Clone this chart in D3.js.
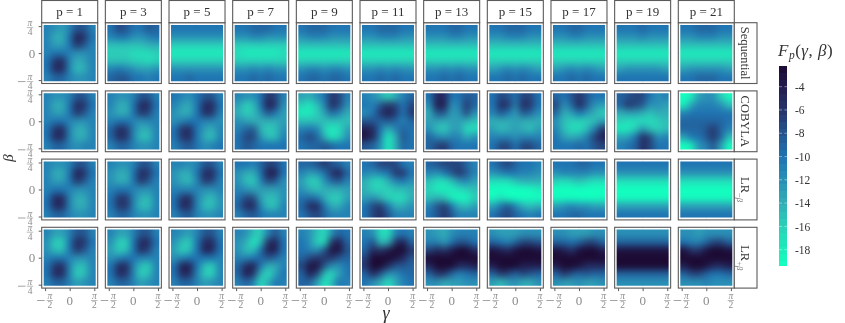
<!DOCTYPE html>
<html><head><meta charset="utf-8">
<script src="https://cdn.jsdelivr.net/npm/d3@7"></script>
<style>html,body{margin:0;background:#fff}svg{display:block;will-change:transform}</style></head><body>
<div id="c"></div>
<script>
const depths=[1,3,5,7,9,11,13,15,17,19,21];
const methods=["Sequential","COBYLA","LR-","LR+"];
const legendTicks=[-4,-6,-8,-10,-12,-14,-16,-18];
const colorDomain=[-19.4,-18,-16,-14,-12,-10,-8,-6,-4,-2.2];
const colorRange=["#12ffbf","#1cecbb","#2bd0b8","#31adb6","#2a90b6","#1f74b2","#24558f","#26356b","#221d50","#1c0a33"];
// Each panel: 7 rows (top = +pi/4) of 7 columns (left = -pi/2)
const sequential=[
[-11,-12,-13,-11,-8,-8,-11, -11,-14,-14,-10,-4,-6,-10, -11,-13,-13,-10,-6,-8,-11, -11,-10,-10,-11,-12,-12,-11, -10,-6,-5,-11,-14,-13,-11, -10,-5,-5,-11,-15,-14,-11, -11,-9,-9,-11,-12,-12,-11],
[-10,-7,-8,-10,-10,-8,-9, -11,-10,-10,-12,-12,-11,-10, -15,-15,-15,-15,-15,-14,-14, -16,-16,-16,-17,-17,-17,-16, -15,-15,-15,-16,-16,-17,-16, -11,-10,-11,-12,-13,-13,-12, -9,-8,-8,-10,-10,-11,-10],
[-10,-10,-10,-10,-10,-10,-10, -12,-12,-12,-12,-12,-12,-12, -16,-16,-16,-16,-16,-16,-16, -18,-18,-18,-18,-18,-18,-18, -16,-16,-16,-16,-16,-16,-16, -12,-12,-12,-12,-12,-12,-12, -10,-10,-9,-10,-10,-10,-10],
[-10,-10,-9,-9,-9,-10,-10, -12,-12,-11,-11,-12,-12,-12, -16,-16,-16,-16,-16,-16,-16, -17,-18,-18,-18,-18,-18,-17, -16,-16,-16,-16,-16,-16,-16, -12,-12,-11,-12,-11,-12,-12, -10,-10,-9,-10,-9,-10,-10],
[-10,-9,-9,-9,-10,-10,-10, -12,-11,-11,-11,-12,-12,-12, -15,-15,-15,-15,-15,-15,-15, -18,-18,-18,-18,-18,-18,-18, -16,-16,-16,-16,-16,-16,-16, -12,-11,-11,-12,-11,-11,-12, -10,-9,-9,-10,-9,-9,-10],
[-10,-10,-9,-9,-9,-10,-10, -12,-12,-11,-11,-11,-12,-12, -15,-15,-15,-15,-15,-15,-15, -18,-18,-18,-18,-18,-18,-18, -16,-16,-16,-16,-16,-16,-16, -12,-12,-11,-12,-11,-12,-12, -10,-10,-9,-10,-9,-10,-10],
[-10,-10,-10,-9,-9,-10,-10, -12,-12,-12,-11,-11,-12,-12, -15,-15,-15,-15,-15,-15,-15, -18,-18,-18,-18,-18,-18,-18, -16,-16,-16,-16,-16,-16,-16, -12,-12,-11,-12,-11,-12,-12, -10,-10,-9,-10,-9,-10,-10],
[-10,-10,-9,-9,-9,-10,-10, -12,-12,-11,-11,-11,-12,-12, -15,-15,-15,-15,-15,-15,-15, -18,-18,-18,-18,-18,-18,-18, -16,-16,-16,-16,-16,-16,-16, -13,-12,-11,-12,-11,-12,-13, -10,-10,-9,-10,-9,-10,-10],
[-10,-10,-9,-9,-10,-10,-10, -12,-12,-11,-11,-12,-12,-12, -15,-15,-15,-15,-15,-15,-15, -18,-18,-18,-18,-18,-18,-18, -16,-16,-16,-16,-16,-16,-16, -13,-12,-11,-12,-11,-12,-13, -10,-10,-9,-10,-9,-10,-10],
[-10,-10,-10,-9,-10,-10,-10, -12,-12,-12,-11,-12,-12,-12, -15,-15,-15,-15,-15,-15,-15, -18,-18,-18,-18,-18,-18,-18, -16,-16,-16,-16,-16,-16,-16, -13,-12,-12,-12,-12,-12,-13, -10,-10,-10,-10,-10,-10,-10],
[-10,-10,-9,-9,-9,-10,-10, -12,-12,-11,-11,-11,-12,-12, -15,-15,-15,-15,-15,-15,-15, -18,-18,-18,-18,-18,-18,-18, -16,-16,-16,-16,-16,-16,-16, -13,-12,-12,-12,-12,-12,-13, -10,-10,-9,-9,-9,-10,-10]
];
const cobyla=[
[-11,-12,-12,-11,-8,-8,-11, -11,-14,-14,-10,-5,-6,-10, -11,-13,-13,-10,-6,-8,-11, -11,-10,-10,-11,-12,-12,-11, -10,-6,-5,-11,-14,-14,-11, -10,-5,-5,-11,-14,-14,-11, -11,-9,-9,-11,-12,-11,-11],
[-11,-12,-12,-11,-8,-8,-11, -11,-14,-14,-10,-5,-5,-10, -12,-14,-14,-10,-6,-7,-11, -11,-10,-10,-11,-12,-11,-11, -9,-5,-6,-11,-14,-14,-11, -9,-5,-6,-11,-15,-15,-11, -11,-9,-9,-11,-12,-12,-11],
[-10,-11,-12,-10,-8,-8,-11, -11,-13,-14,-10,-5,-5,-10, -12,-14,-14,-10,-5,-6,-11, -12,-11,-10,-10,-11,-11,-12, -10,-6,-5,-10,-13,-14,-11, -10,-6,-5,-10,-14,-15,-11, -11,-9,-8,-10,-12,-11,-10],
[-11,-12,-12,-10,-6,-7,-11, -13,-16,-15,-10,-4,-6,-12, -14,-16,-15,-12,-8,-10,-13, -12,-13,-14,-14,-14,-14,-13, -11,-9,-8,-14,-16,-15,-12, -10,-7,-7,-12,-15,-15,-11, -10,-8,-9,-10,-10,-10,-10],
[-13,-14,-12,-10,-6,-7,-11, -16,-18,-15,-11,-5,-7,-12, -18,-18,-16,-13,-9,-11,-14, -15,-15,-15,-15,-15,-15,-15, -11,-10,-11,-16,-18,-17,-13, -9,-7,-9,-14,-18,-16,-12, -10,-9,-9,-8,-9,-10,-10],
[-11,-12,-14,-16,-14,-11,-9, -10,-11,-8,-6,-7,-10,-7, -12,-10,-6,-4,-6,-10,-6, -8,-8,-9,-8,-9,-11,-9, -4,-5,-10,-14,-11,-9,-10, -3,-5,-11,-18,-14,-8,-10, -8,-9,-12,-18,-14,-9,-10],
[-10,-5,-5,-10,-10,-8,-9, -12,-4,-4,-12,-11,-6,-9, -14,-8,-8,-13,-12,-7,-12, -13,-13,-14,-13,-13,-14,-15, -12,-15,-16,-13,-13,-17,-17, -9,-11,-12,-11,-11,-14,-12, -9,-7,-6,-9,-10,-10,-10],
[-10,-7,-8,-10,-7,-7,-10, -10,-5,-6,-11,-5,-6,-10, -11,-8,-10,-13,-8,-9,-12, -14,-14,-14,-13,-14,-14,-14, -13,-15,-14,-13,-14,-15,-13, -11,-11,-11,-12,-11,-11,-11, -10,-7,-7,-10,-7,-7,-9],
[-9,-10,-8,-6,-8,-10,-10, -7,-12,-9,-5,-8,-12,-13, -9,-14,-13,-10,-12,-14,-16, -12,-15,-16,-16,-16,-15,-13, -11,-15,-17,-17,-15,-11,-6, -10,-13,-14,-13,-11,-7,-4, -10,-10,-10,-9,-10,-8,-7],
[-9,-8,-7,-7,-10,-12,-11, -9,-6,-7,-8,-12,-12,-13, -14,-13,-13,-14,-15,-14,-14, -16,-17,-17,-17,-17,-16,-15, -18,-18,-16,-12,-15,-16,-15, -13,-13,-10,-5,-7,-12,-11, -11,-10,-9,-5,-7,-10,-10],
[-22,-18,-13,-12,-12,-16,-19, -18,-13,-11,-11,-11,-12,-15, -11,-10,-10,-10,-10,-10,-10, -9,-9,-9,-9,-9,-9,-10, -9,-9,-9,-8,-6,-9,-11, -13,-10,-10,-8,-6,-9,-15, -23,-18,-12,-11,-8,-13,-21]
];
const lrMinus=[
[-11,-12,-12,-11,-8,-8,-11, -11,-14,-14,-10,-4,-6,-10, -11,-13,-13,-10,-6,-8,-11, -11,-10,-10,-11,-12,-12,-11, -10,-5,-5,-11,-14,-14,-11, -10,-5,-5,-11,-14,-14,-11, -11,-9,-9,-11,-12,-12,-11],
[-11,-12,-12,-11,-8,-8,-11, -12,-14,-14,-10,-5,-6,-10, -12,-14,-14,-10,-6,-8,-11, -11,-10,-10,-11,-12,-12,-11, -10,-6,-6,-11,-14,-15,-11, -10,-6,-6,-11,-15,-15,-11, -11,-9,-9,-11,-12,-12,-11],
[-11,-11,-12,-11,-8,-8,-11, -12,-14,-14,-10,-5,-5,-10, -12,-14,-15,-11,-6,-7,-11, -11,-11,-11,-11,-12,-12,-11, -10,-6,-5,-11,-14,-15,-12, -10,-5,-5,-11,-15,-15,-12, -11,-9,-8,-11,-12,-12,-11],
[-10,-10,-11,-9,-7,-7,-10, -12,-14,-14,-10,-4,-4,-10, -12,-15,-16,-11,-7,-8,-12, -11,-12,-13,-13,-13,-13,-12, -10,-7,-7,-13,-15,-15,-12, -9,-5,-5,-11,-15,-15,-11, -11,-9,-8,-10,-11,-11,-11],
[-9,-9,-8,-6,-8,-9,-11, -11,-13,-12,-10,-6,-4,-9, -13,-16,-16,-12,-9,-8,-11, -12,-14,-15,-14,-14,-14,-13, -10,-9,-10,-14,-16,-16,-13, -9,-5,-5,-10,-14,-14,-11, -10,-8,-7,-9,-11,-11,-11],
[-10,-9,-7,-7,-7,-10,-11, -11,-12,-11,-10,-6,-6,-10, -14,-16,-17,-14,-11,-10,-12, -14,-16,-16,-16,-15,-15,-14, -13,-12,-14,-16,-17,-17,-14, -10,-7,-6,-10,-14,-14,-12, -10,-7,-5,-8,-11,-11,-11],
[-9,-8,-7,-7,-7,-9,-11, -11,-12,-10,-8,-6,-8,-11, -15,-17,-17,-15,-12,-11,-13, -16,-18,-18,-18,-17,-16,-15, -15,-14,-15,-18,-19,-19,-16, -11,-8,-6,-10,-14,-15,-13, -10,-8,-6,-8,-11,-11,-11],
[-10,-8,-7,-9,-10,-10,-11, -12,-11,-10,-10,-11,-11,-12, -17,-17,-17,-15,-14,-14,-14, -20,-20,-20,-20,-20,-19,-18, -19,-17,-19,-20,-21,-21,-20, -13,-10,-8,-11,-14,-15,-14, -10,-8,-7,-9,-10,-11,-10],
[-10,-10,-10,-9,-9,-10,-10, -12,-11,-11,-11,-11,-12,-12, -16,-17,-16,-15,-16,-17,-17, -20,-21,-21,-21,-21,-21,-20, -19,-19,-19,-20,-20,-20,-19, -13,-12,-11,-12,-12,-13,-13, -10,-10,-9,-9,-10,-10,-10],
[-10,-10,-10,-10,-10,-10,-10, -12,-12,-12,-12,-12,-12,-12, -17,-17,-17,-17,-17,-17,-17, -23,-23,-23,-23,-23,-23,-23, -19,-19,-19,-19,-19,-19,-19, -13,-13,-13,-13,-13,-13,-13, -10,-10,-10,-10,-10,-10,-10],
[-10,-10,-10,-10,-10,-10,-10, -12,-12,-12,-12,-12,-12,-12, -17,-17,-17,-17,-17,-17,-17, -23,-23,-23,-23,-23,-23,-23, -19,-19,-19,-19,-19,-19,-19, -13,-13,-13,-13,-13,-13,-13, -10,-10,-10,-10,-10,-10,-10]
];
const lrPlus=[
[-11,-13,-13,-11,-8,-8,-11, -12,-16,-16,-10,-5,-6,-10, -12,-15,-15,-10,-6,-8,-11, -11,-10,-10,-11,-12,-12,-11, -10,-6,-5,-11,-15,-15,-11, -10,-5,-5,-11,-16,-15,-11, -11,-9,-9,-11,-13,-12,-11],
[-11,-13,-13,-11,-8,-8,-11, -12,-16,-16,-10,-5,-5,-10, -13,-16,-15,-10,-5,-7,-11, -12,-11,-10,-10,-11,-11,-11, -10,-5,-5,-11,-15,-16,-11, -10,-5,-6,-11,-16,-15,-11, -11,-9,-9,-11,-13,-12,-11],
[-11,-12,-13,-11,-8,-8,-11, -12,-15,-16,-10,-5,-5,-10, -13,-16,-15,-10,-4,-5,-10, -12,-11,-10,-10,-10,-10,-11, -10,-4,-4,-10,-15,-16,-11, -10,-5,-5,-11,-16,-16,-11, -11,-9,-9,-11,-13,-12,-11],
[-11,-12,-15,-16,-11,-8,-11, -12,-14,-18,-15,-6,-4,-10, -12,-15,-15,-10,-4,-4,-10, -11,-11,-10,-9,-8,-9,-11, -9,-5,-4,-10,-14,-14,-11, -9,-4,-6,-14,-17,-13,-10, -11,-9,-11,-17,-14,-10,-11],
[-11,-12,-15,-17,-12,-9,-10, -10,-12,-16,-17,-6,-4,-9, -10,-11,-12,-8,-3,-3,-8, -9,-7,-6,-6,-6,-8,-9, -7,-3,-3,-8,-12,-12,-10, -9,-4,-7,-15,-17,-13,-10, -9,-9,-13,-18,-15,-10,-11],
[-11,-12,-17,-17,-11,-10,-11, -10,-8,-15,-14,-6,-4,-9, -9,-5,-6,-4,-1,-1,-6, -7,-2,-2,-2,-3,-5,-8, -6,-1,-2,-5,-8,-8,-9, -9,-5,-8,-12,-12,-10,-9, -10,-12,-14,-17,-14,-11,-10],
[-12,-13,-14,-12,-11,-11,-11, -11,-11,-13,-10,-8,-8,-10, -7,-5,-6,-4,-2,-2,-5, -2,-1,-1,-1,-1,-1,-2, -5,-1,-1,-2,-5,-5,-4, -9,-6,-6,-9,-11,-10,-9, -12,-12,-14,-13,-13,-12,-12],
[-12,-13,-13,-13,-12,-12,-12, -9,-10,-11,-9,-7,-7,-8, -3,-4,-5,-3,-2,-2,-3, -1,-1,-1,-1,-1,-1,-1, -4,-1,-1,-2,-4,-4,-4, -9,-6,-7,-9,-7,-8,-9, -13,-15,-13,-12,-14,-14,-12],
[-12,-12,-13,-13,-13,-12,-12, -9,-9,-10,-9,-7,-7,-9, -3,-4,-6,-3,-1,-1,-4, -1,-1,-1,-1,-1,-1,-1, -4,-1,-1,-3,-5,-5,-5, -9,-6,-8,-9,-8,-9,-9, -12,-13,-13,-12,-13,-13,-12],
[-12,-12,-12,-12,-12,-12,-12, -9,-9,-9,-9,-9,-9,-9, -3,-3,-3,-3,-3,-3,-3, -1,-1,-1,-1,-1,-1,-1, -2,-2,-2,-2,-2,-2,-2, -9,-9,-9,-9,-9,-9,-9, -12,-12,-12,-12,-12,-12,-12],
[-12,-12,-13,-12,-12,-12,-12, -10,-11,-11,-9,-7,-7,-9, -3,-6,-6,-3,-1,-1,-3, -1,-1,-1,-1,-1,-1,-1, -4,-1,-1,-3,-5,-5,-4, -9,-7,-7,-9,-10,-10,-9, -12,-12,-12,-11,-12,-12,-12]
];
const rowsData=[sequential,cobyla,lrMinus,lrPlus];
const xTicks=[-Math.PI/2,0,Math.PI/2];
const yTicks=[-Math.PI/4,0,Math.PI/4];

const W=845,H=323;
const svg=d3.select("#c").append("svg").attr("width",W).attr("height",H);
const defs=svg.append("defs");
defs.append("filter").attr("id","soft").attr("x","-30%").attr("y","-30%").attr("width","160%").attr("height","160%")
  .attr("color-interpolation-filters","sRGB")
  .append("feGaussianBlur").attr("stdDeviation",3.6);
const color=d3.scaleLinear().domain(colorDomain).range(colorRange).clamp(true);

const px0=41.7,pw=56,pitchX=63.66,py0=22.7,ph=60.8,pitchY=68.2;
const ink="#5a5a5a", tickInk="#8c8c8c", F="Liberation Serif";
const idx=d3.range(7);

function frac(g,cx,cy,den,size){
  g.append("text").attr("x",cx).attr("y",cy-1.3).attr("text-anchor","middle").attr("font-size",size).attr("font-style","italic").attr("font-family",F).attr("fill",tickInk).text("π");
  g.append("line").attr("x1",cx-3.2).attr("x2",cx+3.2).attr("y1",cy).attr("y2",cy).attr("stroke",tickInk).attr("stroke-width",.6);
  g.append("text").attr("x",cx).attr("y",cy+7.4).attr("text-anchor","middle").attr("font-size",size).attr("font-family",F).attr("fill",tickInk).text(den);
}
function minus(g,x,y){ g.append("line").attr("x1",x).attr("x2",x+7.5).attr("y1",y).attr("y2",y).attr("stroke",tickInk).attr("stroke-width",.8); }

rowsData.forEach((panels,r)=>{
  panels.forEach((vals,c)=>{
    const L=px0+c*pitchX,T=py0+r*pitchY;
    const g=svg.append("g");
    const xs=d3.scaleLinear().domain([-Math.PI/2,Math.PI/2]).range([L+3.4,L+52.6]);
    const ys=d3.scaleLinear().domain([-Math.PI/4,Math.PI/4]).range([T+57.4,T+3.4]);
    g.append("rect").attr("x",L).attr("y",T).attr("width",pw).attr("height",ph).attr("fill","#fff");
    xTicks.forEach(t=>g.append("line").attr("x1",xs(t)).attr("x2",xs(t)).attr("y1",T).attr("y2",T+ph).attr("stroke","#ececec").attr("stroke-width",.6));
    yTicks.forEach(t=>g.append("line").attr("y1",ys(t)).attr("y2",ys(t)).attr("x1",L).attr("x2",L+pw).attr("stroke","#ececec").attr("stroke-width",.6));
    const ix0=L+2,ix1=L+54,iy0=T+2.3,iy1=T+58.5;
    const bx=d3.scaleBand().domain(idx).range([ix0,ix1]);
    const by=d3.scaleBand().domain(idx).range([iy0,iy1]);
    const id=`clip${r}_${c}`;
    defs.append("clipPath").attr("id",id).append("rect").attr("x",ix0).attr("y",iy0).attr("width",ix1-ix0).attr("height",iy1-iy0);
    const cg=g.append("g").attr("clip-path",`url(#${id})`).append("g").attr("filter","url(#soft)");
    const cells=[];
    idx.forEach(i=>idx.forEach(j=>cells.push({i,j,v:vals[i*7+j]})));
    const pad=14;
    cg.selectAll("rect").data(cells).join("rect")
      .attr("x",d=>bx(d.j)-(d.j===0?pad:0))
      .attr("y",d=>by(d.i)-(d.i===0?pad:0))
      .attr("width",d=>bx.bandwidth()+((d.j===0||d.j===6)?pad:0)+.3)
      .attr("height",d=>by.bandwidth()+((d.i===0||d.i===6)?pad:0)+.3)
      .attr("fill",d=>color(d.v)).attr("shape-rendering","crispEdges");
    g.append("rect").attr("x",L).attr("y",T).attr("width",pw).attr("height",ph).attr("fill","none").attr("stroke",ink).attr("stroke-width",1.1);
    if(c===0){
      const a=g.append("g").attr("transform",`translate(${L},0)`).call(d3.axisLeft(ys).tickValues(yTicks).tickSize(3).tickFormat(""));
      a.select(".domain").remove(); a.selectAll("line").attr("stroke",ink);
      yTicks.forEach(t=>{
        const y=ys(t)+(t===0?0:1.5);
        if(t===0) g.append("text").attr("x",32).attr("y",y+4.5).attr("text-anchor","middle").attr("font-size",13).attr("font-family",F).attr("fill",tickInk).text("0");
        else { frac(g,30,y,"4",9.5); if(t<0) minus(g,18,y); }
      });
    }
    if(r===3){
      const a=g.append("g").attr("transform",`translate(0,${T+ph})`).call(d3.axisBottom(xs).tickValues(xTicks).tickSize(3).tickFormat(""));
      a.select(".domain").remove(); a.selectAll("line").attr("stroke",ink);
      xTicks.forEach(t=>{
        const x=xs(t);
        if(t===0) g.append("text").attr("x",x).attr("y",304.5).attr("text-anchor","middle").attr("font-size",13).attr("font-family",F).attr("fill",tickInk).text("0");
        else if(t<0){ frac(g,x+4.7,300.5,"2",9.5); minus(g,x-8,300.5); }
        else frac(g,x,300.5,"2",9.5);
      });
    }
  });
});

// top strips
depths.forEach((p,c)=>{
  const L=px0+c*pitchX;
  svg.append("rect").attr("x",L).attr("y",.5).attr("width",pw).attr("height",py0-.5).attr("fill","#fff").attr("stroke",ink).attr("stroke-width",1.1);
  svg.append("text").attr("x",L+pw/2).attr("y",16).attr("text-anchor","middle").attr("font-size",13).attr("font-family",F).attr("fill","#333").text(`p = ${p}`);
});
// right strips
const rx=px0+10*pitchX+pw;
methods.forEach((m,r)=>{
  const T=py0+r*pitchY;
  svg.append("rect").attr("x",rx).attr("y",T).attr("width",22.7).attr("height",ph).attr("fill","#fff").attr("stroke",ink).attr("stroke-width",1.1);
  const t=svg.append("text").attr("transform",`translate(${rx+7},${T+ph/2}) rotate(90)`).attr("text-anchor","middle").attr("font-size",12.5).attr("font-family",F).attr("fill","#333");
  if(m==="LR-"||m==="LR+"){
    t.append("tspan").text("LR");
    t.append("tspan").attr("dy",4).attr("font-size",8.5).attr("fill","#777").text(m==="LR-"?"−":"+");
    t.append("tspan").attr("font-size",8.5).attr("font-style","italic").attr("fill","#777").text("β");
  } else t.text(m);
});

// axis titles
svg.append("text").attr("x",386).attr("y",319).attr("text-anchor","middle").attr("font-size",18).attr("font-style","italic").attr("font-family",F).attr("fill","#333").text("γ");
svg.append("text").attr("transform","translate(13,158) rotate(-90)").attr("text-anchor","middle").attr("font-size",15).attr("font-style","italic").attr("font-family",F).attr("fill","#333").text("β");

// legend
const ly=d3.scaleLinear().domain([-2.2,-19.4]).range([65.7,266]);
const lg=svg.append("g");
const legendSteps=d3.range(0,29).map(i=>-2.2-i*0.6);
lg.selectAll("rect").data(legendSteps).join("rect").attr("x",779).attr("width",8.4)
  .attr("y",d=>ly(d)).attr("height",d=>Math.max(0,ly(Math.max(d-0.6,-19.4))-ly(d))+.4).attr("fill",d=>color(d-0.3)).attr("shape-rendering","crispEdges");
const la=lg.append("g").attr("transform","translate(787.4,0)").call(d3.axisRight(ly).tickValues(legendTicks).tickSize(0).tickPadding(7.5).tickFormat(d=>d));
la.select(".domain").remove();
la.selectAll("text").attr("font-size",11.5).attr("font-family",F).attr("fill","#333");
legendTicks.forEach(t=>{
  lg.append("line").attr("x1",779).attr("x2",782).attr("y1",ly(t)).attr("y2",ly(t)).attr("stroke","#fff").attr("stroke-opacity",.6).attr("stroke-width",.7);
  lg.append("line").attr("x1",784.4).attr("x2",787.4).attr("y1",ly(t)).attr("y2",ly(t)).attr("stroke","#fff").attr("stroke-opacity",.6).attr("stroke-width",.7);
});
const title=svg.append("text").attr("x",778).attr("y",56).attr("font-size",17).attr("letter-spacing",.5).attr("font-family",F).attr("fill","#333");
title.append("tspan").attr("font-style","italic").text("F");
title.append("tspan").attr("font-style","italic").attr("font-size",11.5).attr("dy",3).text("p");
title.append("tspan").attr("dy",-3).text("(");
title.append("tspan").attr("font-style","italic").text("γ");
title.append("tspan").text(", ");
title.append("tspan").attr("font-style","italic").text("β");
title.append("tspan").text(")");
</script></body></html>
